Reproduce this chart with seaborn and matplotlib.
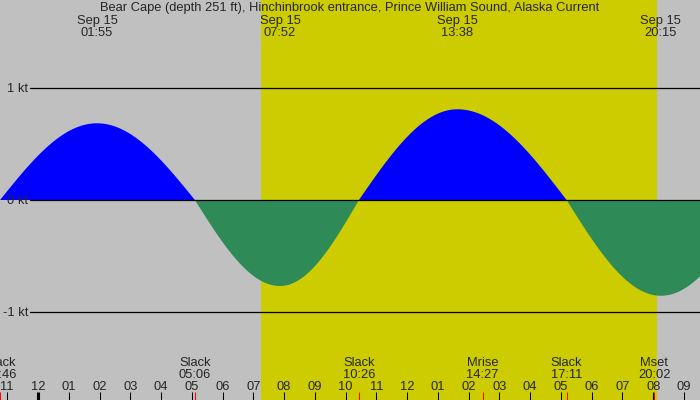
import numpy as np
import pandas as pd
import matplotlib
matplotlib.use("Agg")
import matplotlib.pyplot as plt
import seaborn as sns
from matplotlib.transforms import blended_transform_factory

# Data (hours after midnight Sep 15, speeds in knots)
title = "Bear Cape (depth 251 ft), Hinchinbrook entrance, Prince William Sound, Alaska Current"
slack_hours = [-1.233, 5.100, 10.433, 17.183, 23.33]
slack_labels = ["22:46", "05:06", "10:26", "17:11", None]
max_hours = [1.917, 7.867, 13.633, 20.250]
max_labels = ["01:55", "07:52", "13:38", "20:15"]
max_speeds = [0.685, -0.768, 0.81, -0.855]
moon_hours = [14.450, 20.033]
moon_names = ["Mrise", "Mset"]
moon_labels = ["14:27", "20:02"]
sunrise, sunset = 7.25, 20.12
hour_ticks = list(range(-1, 22))
date_label = "Sep 15"

x_min, x_max = -1.235, 21.52
px_per_kt = 112.0
FS = 9.3
DY = 1.5  # text baseline nudge in pixels

# build current curve: slack -> max -> slack, quarter sine per segment
events = sorted([(t, 0.0) for t in slack_hours] + list(zip(max_hours, max_speeds)))
ts, vs = [], []
for (t0, v0), (t1, v1) in zip(events[:-1], events[1:]):
    s = np.linspace(0, 1, 80)
    if v0 == 0.0:
        v = v1 * np.sin(np.pi / 2 * s)
    else:
        v = v0 * np.cos(np.pi / 2 * s)
    ts.extend(t0 + (t1 - t0) * s)
    vs.extend(v)
df = pd.DataFrame({"hour": ts, "speed": vs})

sns.set_style("white")
plt.rcParams["font.family"] = ["Liberation Sans", "DejaVu Sans"]

fig = plt.figure(figsize=(7, 4), dpi=100)
ax = fig.add_axes([0, 0, 1, 1])
ax.set_xlim(x_min, x_max)
ax.set_ylim(-200 / px_per_kt, 200 / px_per_kt)
ax.set_facecolor("#c0c0c0")
ax.axis("off")
fig.patch.set_facecolor("#c0c0c0")

ax.axvspan(sunrise, sunset, color="#cccc00", lw=0, zorder=0)

sns.lineplot(data=df, x="hour", y="speed", ax=ax, lw=0, legend=False)
ax.fill_between(df["hour"], 0, df["speed"], where=df["speed"] >= 0,
                color="#0000ff", lw=0, zorder=2, interpolate=True)
ax.fill_between(df["hour"], 0, df["speed"], where=df["speed"] <= 0,
                color="#2e8b57", lw=0, zorder=2, interpolate=True)

tr = blended_transform_factory(ax.transData, ax.transAxes)
fy = lambda py: 1 - (py + DY) / 400.0  # pixel row -> axes fraction
fx = lambda px: px / 700.0

# knot lines
for k in [1, 0, -1]:
    ax.axhline(k, xmin=fx(30), xmax=1, color="black", lw=0.9, zorder=3)
    ax.text(28 / 700, fy(200 - k * px_per_kt), f"{k} kt", transform=ax.transAxes,
            ha="right", va="center", fontsize=FS, zorder=4)

# title and max labels
ax.text(0.5, fy(7), title, transform=ax.transAxes, ha="center", va="center", fontsize=FS)
for t, lab in zip(max_hours, max_labels):
    ax.text(t, fy(19.5), date_label, transform=tr, ha="center", va="center", fontsize=FS)
    ax.text(t, fy(31.5), lab, transform=tr, ha="center", va="center", fontsize=FS)

# slack and moon labels
for t, lab in zip(slack_hours, slack_labels):
    if lab is None:
        continue
    ax.text(t, fy(361.5), "Slack", transform=tr, ha="center", va="center", fontsize=FS)
    ax.text(t, fy(373.5), lab, transform=tr, ha="center", va="center", fontsize=FS)
for t, name, lab in zip(moon_hours, moon_names, moon_labels):
    ax.text(t, fy(361.5), name, transform=tr, ha="center", va="center", fontsize=FS)
    ax.text(t, fy(373.5), lab, transform=tr, ha="center", va="center", fontsize=FS)

# hour ticks
for h in hour_ticks:
    lab = f"{((h - 1) % 12) + 1:02d}"
    ax.text(h, fy(385.5), lab, transform=tr, ha="center", va="center", fontsize=FS)
    lw = 2.2 if h == 0 else 0.75
    ax.plot([h, h], [1 - 392 / 400.0, 0], transform=tr, color="black", lw=lw, zorder=5,
            solid_capstyle="butt")
for t in slack_hours + moon_hours:
    ax.plot([t, t], [1 - 392 / 400.0, 0], transform=tr, color="red", lw=0.75, zorder=6,
            solid_capstyle="butt")

fig.savefig("out.png", dpi=100, facecolor=fig.get_facecolor())
